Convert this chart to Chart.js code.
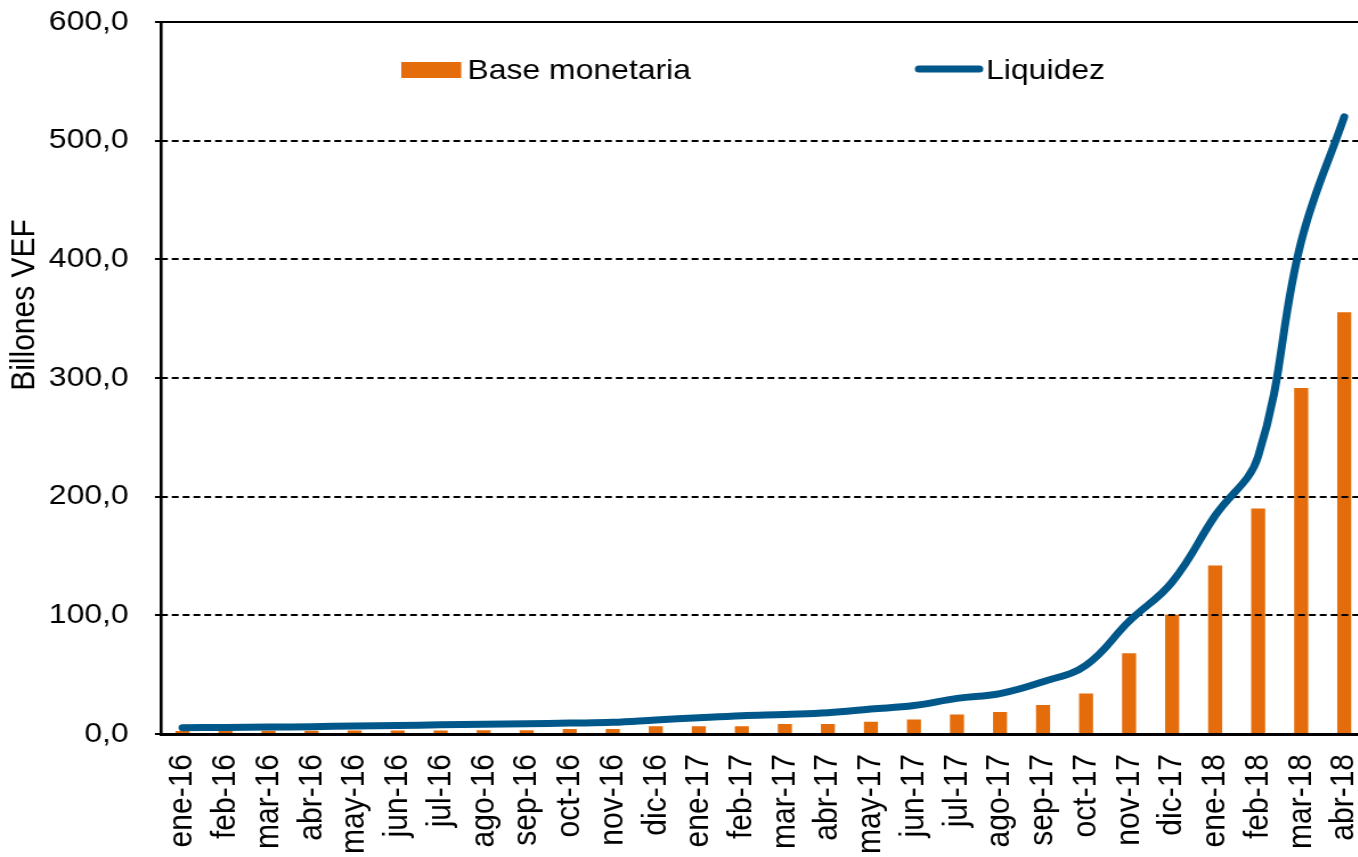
<!DOCTYPE html>
<html>
<head>
<meta charset="utf-8">
<script src="https://cdn.jsdelivr.net/npm/chart.js@4.4.1/dist/chart.umd.min.js"></script>
<style>
    html, body { margin: 0; padding: 0; overflow: hidden; background: #fff; }
    /* the reference picture is stretched sideways, so the canvas is too */
    #wrap { position: absolute; left: 0; top: 0; width: 1198px; height: 857px; transform: scaleX(1.14); transform-origin: 0 0; }
</style>
</head>
<body>
<div id="wrap"><canvas id="myChart" width="1198" height="857"></canvas></div>
<script>
// Data (billones VEF)
const months = ['ene-16', 'feb-16', 'mar-16', 'abr-16', 'may-16', 'jun-16', 'jul-16', 'ago-16', 'sep-16', 'oct-16', 'nov-16', 'dic-16',
    'ene-17', 'feb-17', 'mar-17', 'abr-17', 'may-17', 'jun-17', 'jul-17', 'ago-17', 'sep-17', 'oct-17', 'nov-17', 'dic-17',
    'ene-18', 'feb-18', 'mar-18', 'abr-18'];
const baseMonetaria = [2.6, 2.7, 2.7, 2.8, 2.9, 2.9, 3.0, 3.1, 3.2, 4.2, 4.3, 6.5,
    6.5, 6.6, 8.4, 8.5, 10.3, 12.3, 16.5, 18.5, 24.4, 34.2, 68, 100.4,
    142, 190, 291.5, 355.5];
const liquidez = [5.3, 5.5, 5.8, 6.2, 6.7, 7.2, 7.7, 8.2, 8.6, 9.2, 9.8, 11.8,
    13.7, 15.4, 16.5, 17.9, 21, 24, 30, 34, 44, 58, 95, 128,
    184, 234, 415, 520];
const yMin = 0;
const yMax = 600;
const yStep = 100;

const orange = '#E46C0A';
const blue = '#00578A';
const fontFamily = "'Liberation Sans', Arial, sans-serif";

Chart.defaults.font.family = fontFamily;
Chart.defaults.font.size = 28;
Chart.defaults.color = '#000';

// dashed gridlines drawn over the bars but under the line
const gridPlugin = {
    id: 'dashedGrid',
    afterDatasetDraw(chart, args) {
        if (args.meta.type !== 'bar') return;
        const ctx = chart.ctx;
        const y = chart.scales.y;
        const area = chart.chartArea;
        ctx.save();
        ctx.strokeStyle = '#000';
        ctx.lineWidth = 2;
        y.ticks.forEach(t => {
            if (t.value === yMin) return;
            const py = Math.round(y.getPixelForValue(t.value));
            ctx.setLineDash(t.value === yMax ? [] : [6, 3.5]);
            ctx.beginPath();
            ctx.moveTo(area.left, py);
            ctx.lineTo(area.right, py);
            ctx.stroke();
        });
        ctx.restore();
    }
};

// axis title and legend at their own spots
const labelPlugin = {
    id: 'labels',
    afterDraw(chart) {
        const ctx = chart.ctx;
        ctx.save();
        ctx.fillStyle = '#000';
        ctx.textBaseline = 'middle';

        // y title
        ctx.save();
        ctx.font = '30px ' + fontFamily;
        ctx.translate(22, 305);
        ctx.rotate(-Math.PI / 2);
        ctx.textAlign = 'center';
        ctx.fillText('Billones VEF', 0, 0);
        ctx.restore();

        // legend
        ctx.font = '28px ' + fontFamily;
        ctx.textAlign = 'left';
        ctx.fillStyle = orange;
        ctx.fillRect(352, 62, 52.6, 16);
        ctx.fillStyle = '#000';
        ctx.fillText('Base monetaria', 410, 71);

        ctx.strokeStyle = blue;
        ctx.lineWidth = 7;
        ctx.lineCap = 'round';
        ctx.beginPath();
        ctx.moveTo(806, 69);
        ctx.lineTo(859, 69);
        ctx.stroke();
        ctx.fillText('Liquidez', 865, 71);
        ctx.restore();
    }
};

const ctx = document.getElementById('myChart');

const chart = new Chart(ctx, {
    data: {
        labels: months,
        datasets: [
            {
                type: 'line',
                label: 'Liquidez',
                data: liquidez,
                borderColor: blue,
                borderWidth: 7,
                pointRadius: 0,
                tension: 0.4,
                borderCapStyle: 'round',
                borderJoinStyle: 'round',
                order: 0
            },
            {
                type: 'bar',
                label: 'Base monetaria',
                data: baseMonetaria,
                backgroundColor: orange,
                barPercentage: 0.326,
                categoryPercentage: 1,
                order: 1
            }
        ]
    },
    options: {
        responsive: false,
        animation: false,
        layout: { padding: { top: 22, right: 0, left: 0, bottom: 0 }, autoPadding: false },
        plugins: {
            legend: { display: false },
            tooltip: { enabled: false }
        },
        scales: {
            x: {
                grid: { display: false },
                border: { display: true, color: '#000', width: 3 },
                ticks: {
                    minRotation: 90,
                    maxRotation: 90,
                    autoSkip: false,
                    padding: 12,
                    color: '#000',
                    font: { size: 30 }
                },
                afterFit(scale) {
                    scale.height = 123;
                    // plot runs off the right edge like the original crop
                    scale.paddingLeft = 0;
                    scale.paddingRight = 0;
                }
            },
            y: {
                min: yMin,
                max: yMax,
                grid: { drawOnChartArea: false, drawTicks: true, tickLength: 5.3, color: '#000', lineWidth: 2 },
                border: { display: true, color: '#000', width: 2.6 },
                ticks: {
                    stepSize: yStep,
                    padding: 23,
                    color: '#000',
                    font: { size: 28 },
                    callback: v => v.toFixed(1).replace('.', ',')
                },
                afterFit(scale) {
                    scale.width = 141.2;
                    // tick padding would otherwise push the plot top down
                    scale.paddingTop = 0;
                    scale.paddingBottom = 0;
                }
            }
        }
    },
    plugins: [gridPlugin, labelPlugin]
});
</script>
</body>
</html>
